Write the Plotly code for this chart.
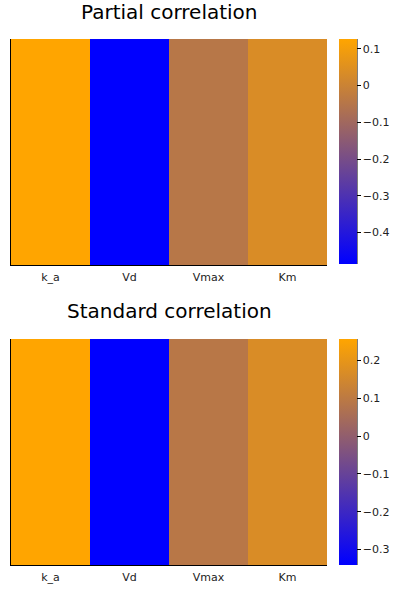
import plotly.graph_objects as go

params = ["k_a", "Vd", "Vmax", "Km"]
partial_corr = [0.127, -0.486, -0.045, 0.035]
standard_corr = [0.257, -0.341, 0.090, 0.167]
titles = ["Partial correlation", "Standard correlation"]

W, H = 399, 600
colorscale = [[0, "rgb(0,0,255)"], [1, "rgb(255,165,0)"]]
FONT = "DejaVu Sans"

def py(p):
    return 1 - p / H

def px(p):
    return p / W

fig = go.Figure()

panels = [
    (partial_corr, "coloraxis", "x", "y"),
    (standard_corr, "coloraxis2", "x2", "y2"),
]

for vals, cax, xa, ya in panels:
    fig.add_trace(go.Heatmap(
        x=params, y=[""], z=[vals], coloraxis=cax, xaxis=xa, yaxis=ya,
    ))

axis_common = dict(showline=True, linecolor="black", linewidth=1, mirror=False,
                   showgrid=False, zeroline=False, ticks="", ticklabelstandoff=2,
                   tickfont=dict(family=FONT, size=11, color="#222"))

fig.update_layout(
    width=W, height=H,
    margin=dict(l=0, r=0, t=0, b=0, autoexpand=False),
    paper_bgcolor="white", plot_bgcolor="white",
    font=dict(family=FONT, size=11, color="black"),
    xaxis=dict(domain=[px(11), px(327)], anchor="y", **axis_common),
    yaxis=dict(domain=[py(265), py(39)], anchor="x", showticklabels=False, **axis_common),
    xaxis2=dict(domain=[px(11), px(327)], anchor="y2", **axis_common),
    yaxis2=dict(domain=[py(565), py(339)], anchor="x2", showticklabels=False, **axis_common),
)

def cbar(top, bot):
    return dict(
        x=px(339), xanchor="left", xpad=0,
        y=py(top), yanchor="top", ypad=0,
        lenmode="pixels", len=bot - top,
        thickness=18, thicknessmode="pixels",
        outlinewidth=0,
        ticks="outside", ticklen=4, tickcolor="black",
        tick0=0, dtick=0.1,
        tickfont=dict(family=FONT, size=11, color="#222"),
    )

fig.update_layout(
    coloraxis=dict(colorscale=colorscale, cmin=min(partial_corr), cmax=max(partial_corr),
                   colorbar=cbar(39, 264)),
    coloraxis2=dict(colorscale=colorscale, cmin=min(standard_corr), cmax=max(standard_corr),
                    colorbar=cbar(339, 565)),
)

# colorbar axis lines on the right side
for top, bot in [(39, 264), (339, 565)]:
    fig.add_shape(type="line", xref="paper", yref="paper",
                  x0=px(357), x1=px(357), y0=py(top), y1=py(bot),
                  line=dict(color="black", width=1))

for t, yc in zip(titles, [12, 311]):
    fig.add_annotation(text=t, xref="paper", yref="paper",
                       x=px(169), y=py(yc), xanchor="center", yanchor="middle",
                       showarrow=False, font=dict(family=FONT, size=20, color="black"))

fig.write_html("out.html", config={"displayModeBar": False},
               post_script="document.body.style.margin='0';document.body.style.overflow='hidden';")
